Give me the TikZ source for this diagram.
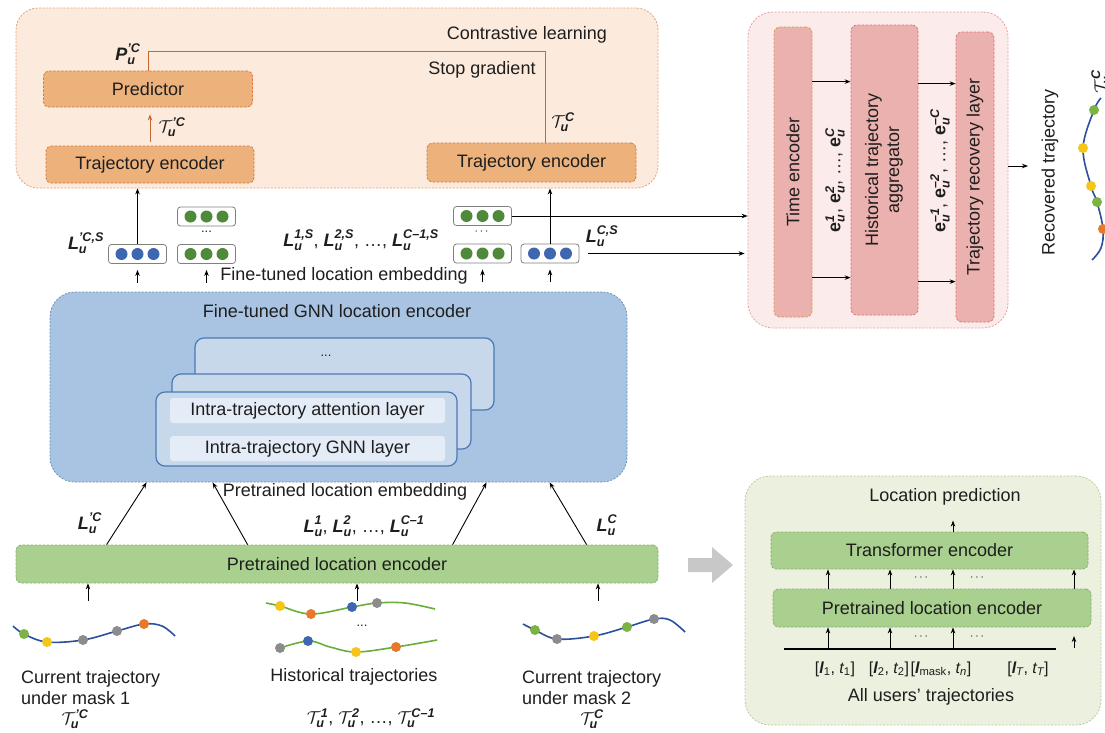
\documentclass[tikz,border=0pt]{standalone}
\usepackage{amsmath}
\usepackage{fontspec}
\setmainfont{Liberation Sans}
\usetikzlibrary{arrows.meta,calc}
\definecolor{txt}{HTML}{1E1E1E}
\definecolor{opanel}{HTML}{FCEBDD}
\definecolor{opanelb}{HTML}{E6A27C}
\definecolor{obox}{HTML}{EDB27C}
\definecolor{oboxb}{HTML}{D27A42}
\definecolor{oline}{HTML}{C8672E}
\definecolor{ppanel}{HTML}{FCEBEB}
\definecolor{ppanelb}{HTML}{E7A2A2}
\definecolor{pbox}{HTML}{EBB1AE}
\definecolor{pboxb}{HTML}{E07272}
\definecolor{tboxb}{HTML}{CFA24A}
\definecolor{bpanel}{HTML}{A8C4E2}
\definecolor{bpanelb}{HTML}{6F90BA}
\definecolor{card}{HTML}{C8D8EB}
\definecolor{cardb}{HTML}{4A79B6}
\definecolor{row}{HTML}{E4EDF7}
\definecolor{gbox}{HTML}{A9D08E}
\definecolor{gboxb}{HTML}{8CAD72}
\definecolor{gpanel}{HTML}{EBF1DE}
\definecolor{gpanelb}{HTML}{B7CBA2}
\definecolor{dblue}{HTML}{3F67B1}
\definecolor{dgreen}{HTML}{4E8A3A}
\definecolor{tgreen}{HTML}{7CB342}
\definecolor{tyellow}{HTML}{F5C518}
\definecolor{tgray}{HTML}{8C8C8C}
\definecolor{torange}{HTML}{E8782A}
\definecolor{cblue}{HTML}{2D4F9E}
\definecolor{cgreen}{HTML}{6AAE3A}
\definecolor{garrow}{HTML}{C8C8C8}
\newcommand{\bv}[1]{\text{\bfseries\itshape #1}}
\newcommand{\ev}[1]{\text{\bfseries #1}}
\begin{document}
\begin{tikzpicture}[x=1pt,y=-1pt,
  font=\fontsize{18pt}{21pt}\selectfont,
  every node/.style={text=txt},
  arr/.style={-{Stealth[length=6pt,width=4.5pt]}, line width=0.9pt, draw=black},
  panel/.style={dash pattern=on 2pt off 1.5pt, line width=0.8pt, rounded corners=22pt},
  obx/.style={draw=oboxb, fill=obox, dash pattern=on 2.5pt off 1.5pt, line width=0.8pt, rounded corners=5pt, inner sep=0pt},
  pbx/.style={draw=pboxb, fill=pbox, dash pattern=on 2.5pt off 1.5pt, line width=0.8pt, rounded corners=6pt, inner sep=0pt},
  gbx/.style={draw=gboxb, fill=gbox, dash pattern=on 2.5pt off 1.5pt, line width=0.8pt, rounded corners=5pt, inner sep=0pt},
  cardbox/.style={draw=cardb, fill=card, line width=1.2pt, rounded corners=9pt, inner sep=0pt},
  rowbox/.style={fill=row, rounded corners=3pt, inner sep=0pt, minimum width=275pt, minimum height=25pt},
  embbox/.style={draw=black!50, fill=white, rounded corners=3pt, line width=0.8pt, minimum width=58pt, minimum height=19pt, inner sep=0pt},
  lbl/.style={inner sep=1pt},
  seq/.style={inner sep=1pt, font=\fontsize{16pt}{19pt}\selectfont},
  dot/.style={radius=5pt},
  edot/.style={radius=6pt}
]
\fill[white] (0,0) rectangle (1105,732);
\useasboundingbox (0,0) rectangle (1105,732);

% ===== top-left orange panel =====
\node[panel, draw=opanelb, fill=opanel, minimum width=642pt, minimum height=180pt] (op) at (337,98) {};
\node[obx, minimum width=209pt, minimum height=36pt] (pred) at (148,89) {Predictor};
\node[obx, minimum width=208pt, minimum height=37pt] (trL) at (150,164.5) {Trajectory encoder};
\node[obx, minimum width=209pt, minimum height=39pt] (trR) at (531.5,162.5) {Trajectory encoder};
\node[lbl] (cl) at (527,35) {Contrastive learning};
\node[lbl] (sg) at (482,70) {Stop gradient};
\node[lbl] (plab) at (128,54) {$\bv{P}^{\bv{'C}}_{\bv{u}}$};
\node[lbl] (tplab) at (172,127) {$\mathcal{T}^{\bv{'C}}_{\bv{u}}$};
\node[lbl] (tlab) at (563,122) {$\mathcal{T}^{\bv{C}}_{\bv{u}}$};
\coordinate (sgc) at (545,51);
\draw[oline, line width=1pt] (pred.north) |- (sgc) -- (sgc |- trR.north);
\draw[-{Stealth[length=6pt,width=4.5pt]}, oline, line width=1pt, shorten <=4pt, shorten >=7pt] (trL.north) -- (trL.north |- pred.south);

% ===== embeddings row =====
\node[embbox] (embL) at (137.5,254) {};
\node[embbox] (gL1) at (206.5,216.5) {};
\node[embbox] (gL2) at (206.5,254) {};
\node[embbox] (gR1) at (482.5,216) {};
\node[embbox] (gR2) at (482.5,253.5) {};
\node[embbox] (embR) at (550,253.5) {};
\foreach \b in {embL,embR} {\foreach \d in {-16,0,16} \fill[dblue] ($(\b)+(\d,0)$) circle[edot];}
\foreach \b in {gL1,gL2,gR1,gR2} {\foreach \d in {-16,0,16} \fill[dgreen] ($(\b)+(\d,0)$) circle[edot];}
\node[lbl, font=\fontsize{13pt}{15pt}\selectfont] (dl) at (206.5,232) {...};
\node[lbl, font=\fontsize{13pt}{15pt}\selectfont] (dr) at (482.5,232) {$\cdots$};
\node[lbl] (lcsp) at (86,243) {$\bv{L}^{\bv{'C,S}}_{\bv{u}}$};
\node[lbl] (lmid) at (361,240) {$\bv{L}^{\bv{1,S}}_{\bv{u}}$, $\bv{L}^{\bv{2,S}}_{\bv{u}}$, \dots, $\bv{L}^{\bv{C\textendash1,S}}_{\bv{u}}$};
\node[lbl] (lcs) at (602,236) {$\bv{L}^{\bv{C,S}}_{\bv{u}}$};
\node[lbl] (fte) at (344,276) {Fine-tuned location embedding};
\draw[arr] (embL.north) -- (embL.north |- op.south);
\draw[arr] (embR.north) -- (embR.north |- op.south);
\foreach \b in {embL,gL2,gR2,embR} \draw[arr] ($(\b.south)+(0,19)$) -- ($(\b.south)+(0,6)$);

% ===== right pink panel =====
\node[panel, draw=ppanelb, fill=ppanel, rounded corners=25pt, minimum width=260pt, minimum height=316pt] (pp) at (878,170) {};
\node[pbx, draw=tboxb, minimum width=38pt, minimum height=290pt] (te) at (793,172) {\rotatebox{90}{Time encoder}};
\node[pbx, minimum width=67pt, minimum height=290pt] (ha) at (884.5,170) {\rotatebox{90}{\begin{tabular}{@{}c@{}}Historical trajectory\\aggregator\end{tabular}}};
\node[pbx, minimum width=38pt, minimum height=290pt] (rl) at (975,177) {\rotatebox{90}{Trajectory recovery layer}};
\coordinate (t1) at ($(te.north east)+(0,55)$);
\coordinate (t2) at ($(te.north east)+(0,251)$);
\coordinate (h1) at ($(ha.north east)+(0,59)$);
\coordinate (h2) at ($(ha.north east)+(0,257)$);
\draw[arr] (t1) -- (t1 -| ha.west);
\draw[arr] (t2) -- (t2 -| ha.west);
\draw[arr] (h1) -- (h1 -| rl.west);
\draw[arr] (h2) -- (h2 -| rl.west);
\node[lbl, rotate=90] (e1) at (835,180) {$\ev{e}^{\bv{1}}_{\bv{u}}$, $\ev{e}^{\bv{2}}_{\bv{u}}$, \dots, $\ev{e}^{\bv{C}}_{\bv{u}}$};
\node[lbl, rotate=90] (e2) at (940,171) {$\ev{e}^{\bv{\textendash1}}_{\bv{u}}$, $\ev{e}^{\bv{\textendash2}}_{\bv{u}}$, \dots, $\ev{e}^{\bv{\textendash C}}_{\bv{u}}$};
\coordinate (rout) at (1028,166);
\draw[arr] (rout -| pp.east) -- (rout);
\node[lbl, rotate=90] (rt) at (1050,172) {Recovered trajectory};
\node[lbl, rotate=90] (rtl) at (1101,82) {$\mathcal{T}^{\bv{C}}_{\bv{u}}$};
\draw[cblue, line width=1.6pt] plot[smooth, tension=0.6] coordinates {(1101,98) (1094,110) (1083,148) (1091,186) (1097,202) (1103,229) (1101,248) (1092,260)};
\fill[tgreen] (1094,110) circle[dot];
\fill[tyellow] (1083,148) circle[dot];
\fill[tyellow] (1091,186) circle[dot];
\fill[tgreen] (1097,202) circle[dot];
\fill[torange] (1103,229) circle[dot];

% ===== connectors to the pink panel =====
\draw[arr] (gR1.east) -- (gR1.east -| pp.west);
\draw[arr, shorten <=9pt, shorten >=3pt] (embR.east) -- (embR.east -| pp.west);

% ===== GNN panel =====
\node[panel, draw=bpanelb, fill=bpanel, rounded corners=25pt, minimum width=577pt, minimum height=190pt] (gnn) at (338.5,387) {};
\node[lbl] (gnnt) at (337,311) {Fine-tuned GNN location encoder};
\node[cardbox, minimum width=299pt, minimum height=72pt] (c3) at (344.5,374) {};
\node[lbl, font=\fontsize{13pt}{15pt}\selectfont] (c3d) at (326,356) {...};
\node[cardbox, minimum width=299pt, minimum height=75pt] (c2) at (321.5,411.5) {};
\node[cardbox, minimum width=301pt, minimum height=74pt] (c1) at (306.5,429) {};
\node[rowbox] (r1) at (307.5,410.5) {Intra-trajectory attention layer};
\node[rowbox] (r2) at (307.5,448.5) {Intra-trajectory GNN layer};
\node[lbl] (ple_t) at (345,492) {Pretrained location embedding};

% ===== Pretrained location encoder =====
\node[gbx, minimum width=642pt, minimum height=38pt] (ple) at (337,564) {Pretrained location encoder};
\draw[arr] ($(ple.north west)+(91,0)$) -- ($(gnn.south west)+(97,0)$);
\draw[arr] ($(ple.north west)+(232,0)$) -- ($(gnn.south west)+(163,0)$);
\draw[arr] ($(ple.north west)+(437,0)$) -- ($(gnn.south west)+(437,0)$);
\draw[arr] ($(ple.north west)+(571,0)$) -- ($(gnn.south west)+(500,0)$);
\node[lbl] (lpc) at (90,523) {$\bv{L}^{\bv{'C}}_{\bv{u}}$};
\node[lbl] (lhist) at (364,526) {$\bv{L}^{\bv{1}}_{\bv{u}}$, $\bv{L}^{\bv{2}}_{\bv{u}}$, \dots, $\bv{L}^{\bv{C\textendash1}}_{\bv{u}}$};
\node[lbl] (lc) at (607,525) {$\bv{L}^{\bv{C}}_{\bv{u}}$};

% ===== trajectories =====
\coordinate (c1top) at (88,601);
\coordinate (c2top) at (357,601);
\coordinate (c3top) at (598,601);
\draw[arr] (c1top) -- (c1top |- ple.south);
\draw[arr] (c2top) -- (c2top |- ple.south);
\draw[arr] (c3top) -- (c3top |- ple.south);

\draw[cblue, line width=1.6pt] plot[smooth, tension=0.6] coordinates {(13,626) (24,634) (47,642) (83,640) (117,631) (144,624) (162,626) (175,636)};
\fill[tgreen] (24,634) circle[dot];
\fill[tyellow] (47,642) circle[dot];
\fill[tgray] (83,640) circle[dot];
\fill[tgray] (117,631) circle[dot];
\fill[torange] (144,624) circle[dot];

\draw[cgreen, line width=1.6pt] plot[smooth, tension=0.6] coordinates {(266,603) (280,606) (311,614) (352,607) (377,603) (405,603) (435,609)};
\fill[tyellow] (280,606) circle[dot];
\fill[torange] (311,614) circle[dot];
\fill[dblue] (352,607) circle[dot];
\fill[tgray] (377,603) circle[dot];
\node[lbl, font=\fontsize{13pt}{15pt}\selectfont] (hd) at (362,626) {...};
\draw[cgreen, line width=1.6pt] plot[smooth, tension=0.6] coordinates {(277,649) (308,641) (330,647) (356,652) (396,647) (437,640)};
\fill[tgray] (280,648) circle[dot];
\fill[dblue] (308,641) circle[dot];
\fill[tyellow] (356,652) circle[dot];
\fill[torange] (396,647) circle[dot];

\draw[cblue, line width=1.6pt] plot[smooth, tension=0.6] coordinates {(523,624) (535,630) (557,639) (594,636) (627,627) (654,619) (670,620) (685,632)};
\fill[tgreen] (535,630) circle[dot];
\fill[tgray] (557,639) circle[dot];
\fill[tyellow] (594,636) circle[dot];
\fill[tgreen] (627,627) circle[dot];
\fill[tgray] (654,619) circle[dot];

\node[lbl, anchor=west, align=left] (cur1) at (20,687.5) {Current trajectory\\under mask 1};
\node[lbl] (cur1t) at (75,719) {$\mathcal{T}^{\bv{'C}}_{\bv{u}}$};
\node[lbl] (hist) at (354,677) {Historical trajectories};
\node[lbl] (histt) at (371,718) {$\mathcal{T}^{\bv{1}}_{\bv{u}}$, $\mathcal{T}^{\bv{2}}_{\bv{u}}$, \dots, $\mathcal{T}^{\bv{C\textendash1}}_{\bv{u}}$};
\node[lbl, anchor=west, align=left] (cur2) at (521,687.5) {Current trajectory\\under mask 2};
\node[lbl] (cur2t) at (592,719) {$\mathcal{T}^{\bv{C}}_{\bv{u}}$};

% ===== gray transition arrow =====
\fill[garrow] (688,558) -- (712,558) -- (712,547) -- (733,565) -- (712,583) -- (712,572) -- (688,572) -- cycle;

% ===== bottom-right green panel =====
\node[panel, draw=gpanelb, fill=gpanel, rounded corners=25pt, minimum width=356pt, minimum height=249pt] (gp) at (923,600.5) {};
\node[lbl] (lp) at (945,497) {Location prediction};
\node[gbx, minimum width=317pt, minimum height=37pt] (tfe) at (929.5,550.5) {Transformer encoder};
\node[gbx, minimum width=318pt, minimum height=38pt] (ple2) at (932,608) {Pretrained location encoder};
\draw[arr] (tfe.north -| 953,0) -- ($(tfe.north -| 953,0)+(0,-11)$);
\foreach \xx in {828,890,953,1074} \draw[arr] (ple2.north -| \xx,0) -- (tfe.south -| \xx,0);
\node[lbl, font=\fontsize{13pt}{15pt}\selectfont] (d1) at (922,578) {$\cdots$};
\node[lbl, font=\fontsize{13pt}{15pt}\selectfont] (d2) at (978,578) {$\cdots$};
\coordinate (bl1) at (784,649);
\coordinate (bl2) at (1056,649);
\draw[line width=1.2pt] (bl1) -- (bl2);
\foreach \xx in {828,890,953} \draw[arr] (bl1 -| \xx,0) -- (ple2.south -| \xx,0);
\draw[arr] (1074,648) -- (1074,636);
\node[lbl, font=\fontsize{13pt}{15pt}\selectfont] (d3) at (922,637) {$\cdots$};
\node[lbl, font=\fontsize{13pt}{15pt}\selectfont] (d4) at (978,637) {$\cdots$};
\node[seq] (x1) at (835,669) {[$\bv{l}_{\text{1}}$, $\text{\itshape t}_{\text{1}}$]};
\node[seq] (x2) at (889,669) {[$\bv{l}_{\text{2}}$, $\text{\itshape t}_{\text{2}}$]};
\node[seq] (x3) at (941,669) {[$\bv{l}_{\text{mask}}$, $\text{\itshape t}_{\text{\itshape n}}$]};
\node[seq] (x4) at (1028,669) {[$\bv{l}_{\text{\itshape T}}$, $\text{\itshape t}_{\text{\itshape T}}$]};
\node[lbl] (aut) at (931,697) {All users' trajectories};
\end{tikzpicture}
\end{document}
